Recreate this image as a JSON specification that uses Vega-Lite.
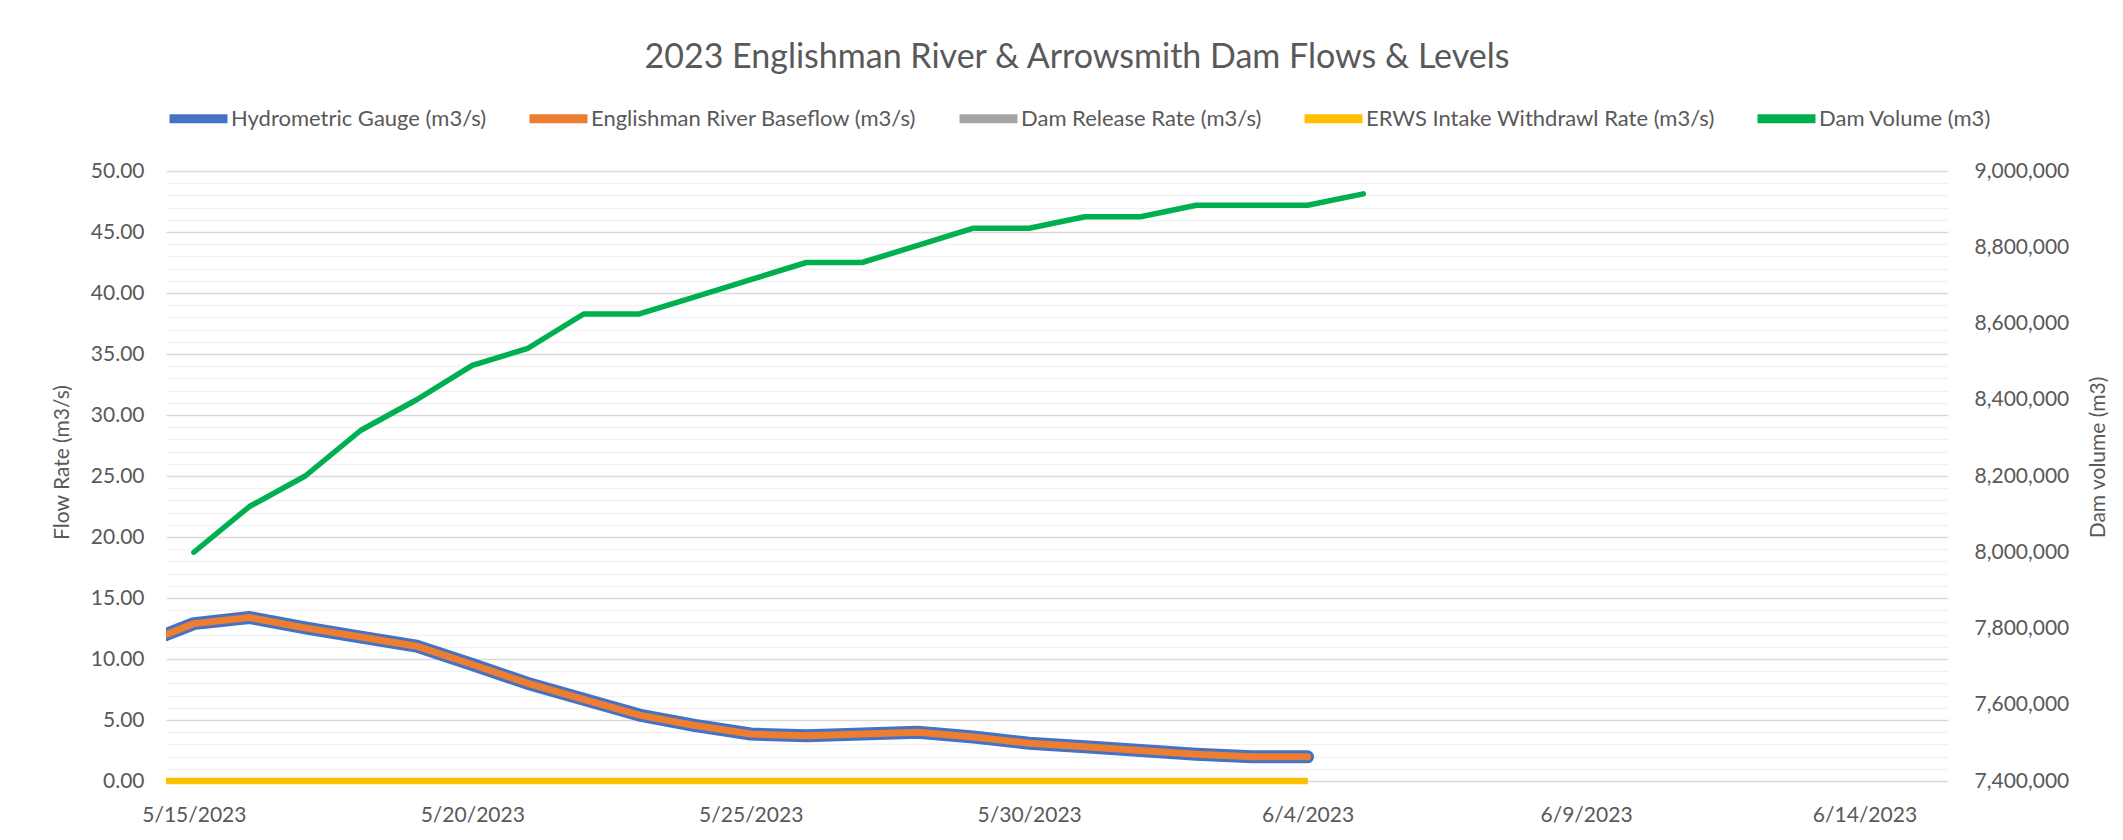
{
  "$schema": "https://vega.github.io/schema/vega-lite/v6.json",
  "width": 1782,
  "height": 610,
  "autosize": {"type": "none"},
  "padding": {"left": 166, "top": 171, "right": 175, "bottom": 59},
  "background": "white",
  "config": {
    "view": {"stroke": null},
    "font": "Lato",
    "axis": {"labelFont": "Lato", "titleFont": "Lato", "labelColor": "#595959", "titleColor": "#595959", "titleFontWeight": "normal"}
  },
  "title": {
    "text": "2023 Englishman River & Arrowsmith Dam Flows & Levels",
    "font": "Lato",
    "fontSize": 34,
    "fontWeight": "normal",
    "color": "#595959",
    "anchor": "middle",
    "offset": 10,
    "dx": 20
  },
  "data": {
    "values": [
      {"date": "2023-05-14", "series": "Hydrometric Gauge (m3/s)", "value": 11.1},
      {"date": "2023-05-15", "series": "Hydrometric Gauge (m3/s)", "value": 12.9},
      {"date": "2023-05-16", "series": "Hydrometric Gauge (m3/s)", "value": 13.4},
      {"date": "2023-05-17", "series": "Hydrometric Gauge (m3/s)", "value": 12.55},
      {"date": "2023-05-18", "series": "Hydrometric Gauge (m3/s)", "value": 11.8},
      {"date": "2023-05-19", "series": "Hydrometric Gauge (m3/s)", "value": 11.05},
      {"date": "2023-05-20", "series": "Hydrometric Gauge (m3/s)", "value": 9.55},
      {"date": "2023-05-21", "series": "Hydrometric Gauge (m3/s)", "value": 8.0},
      {"date": "2023-05-22", "series": "Hydrometric Gauge (m3/s)", "value": 6.7},
      {"date": "2023-05-23", "series": "Hydrometric Gauge (m3/s)", "value": 5.4},
      {"date": "2023-05-24", "series": "Hydrometric Gauge (m3/s)", "value": 4.55},
      {"date": "2023-05-25", "series": "Hydrometric Gauge (m3/s)", "value": 3.85},
      {"date": "2023-05-26", "series": "Hydrometric Gauge (m3/s)", "value": 3.7},
      {"date": "2023-05-27", "series": "Hydrometric Gauge (m3/s)", "value": 3.85},
      {"date": "2023-05-28", "series": "Hydrometric Gauge (m3/s)", "value": 4.0},
      {"date": "2023-05-29", "series": "Hydrometric Gauge (m3/s)", "value": 3.6},
      {"date": "2023-05-30", "series": "Hydrometric Gauge (m3/s)", "value": 3.1},
      {"date": "2023-05-31", "series": "Hydrometric Gauge (m3/s)", "value": 2.8},
      {"date": "2023-06-01", "series": "Hydrometric Gauge (m3/s)", "value": 2.5},
      {"date": "2023-06-02", "series": "Hydrometric Gauge (m3/s)", "value": 2.2},
      {"date": "2023-06-03", "series": "Hydrometric Gauge (m3/s)", "value": 1.98},
      {"date": "2023-06-04", "series": "Hydrometric Gauge (m3/s)", "value": 1.98},

      {"date": "2023-05-14", "series": "Englishman River Baseflow (m3/s)", "value": 11.1},
      {"date": "2023-05-15", "series": "Englishman River Baseflow (m3/s)", "value": 12.9},
      {"date": "2023-05-16", "series": "Englishman River Baseflow (m3/s)", "value": 13.4},
      {"date": "2023-05-17", "series": "Englishman River Baseflow (m3/s)", "value": 12.55},
      {"date": "2023-05-18", "series": "Englishman River Baseflow (m3/s)", "value": 11.8},
      {"date": "2023-05-19", "series": "Englishman River Baseflow (m3/s)", "value": 11.05},
      {"date": "2023-05-20", "series": "Englishman River Baseflow (m3/s)", "value": 9.55},
      {"date": "2023-05-21", "series": "Englishman River Baseflow (m3/s)", "value": 8.0},
      {"date": "2023-05-22", "series": "Englishman River Baseflow (m3/s)", "value": 6.7},
      {"date": "2023-05-23", "series": "Englishman River Baseflow (m3/s)", "value": 5.4},
      {"date": "2023-05-24", "series": "Englishman River Baseflow (m3/s)", "value": 4.55},
      {"date": "2023-05-25", "series": "Englishman River Baseflow (m3/s)", "value": 3.85},
      {"date": "2023-05-26", "series": "Englishman River Baseflow (m3/s)", "value": 3.7},
      {"date": "2023-05-27", "series": "Englishman River Baseflow (m3/s)", "value": 3.85},
      {"date": "2023-05-28", "series": "Englishman River Baseflow (m3/s)", "value": 4.0},
      {"date": "2023-05-29", "series": "Englishman River Baseflow (m3/s)", "value": 3.6},
      {"date": "2023-05-30", "series": "Englishman River Baseflow (m3/s)", "value": 3.1},
      {"date": "2023-05-31", "series": "Englishman River Baseflow (m3/s)", "value": 2.8},
      {"date": "2023-06-01", "series": "Englishman River Baseflow (m3/s)", "value": 2.5},
      {"date": "2023-06-02", "series": "Englishman River Baseflow (m3/s)", "value": 2.2},
      {"date": "2023-06-03", "series": "Englishman River Baseflow (m3/s)", "value": 1.98},
      {"date": "2023-06-04", "series": "Englishman River Baseflow (m3/s)", "value": 1.98},

      {"date": "2023-05-14T12:00:00Z", "series": "Dam Release Rate (m3/s)", "value": 0},
      {"date": "2023-05-15", "series": "Dam Release Rate (m3/s)", "value": 0},
      {"date": "2023-05-16", "series": "Dam Release Rate (m3/s)", "value": 0},
      {"date": "2023-05-17", "series": "Dam Release Rate (m3/s)", "value": 0},
      {"date": "2023-05-18", "series": "Dam Release Rate (m3/s)", "value": 0},
      {"date": "2023-05-19", "series": "Dam Release Rate (m3/s)", "value": 0},
      {"date": "2023-05-20", "series": "Dam Release Rate (m3/s)", "value": 0},
      {"date": "2023-05-21", "series": "Dam Release Rate (m3/s)", "value": 0},
      {"date": "2023-05-22", "series": "Dam Release Rate (m3/s)", "value": 0},
      {"date": "2023-05-23", "series": "Dam Release Rate (m3/s)", "value": 0},
      {"date": "2023-05-24", "series": "Dam Release Rate (m3/s)", "value": 0},
      {"date": "2023-05-25", "series": "Dam Release Rate (m3/s)", "value": 0},
      {"date": "2023-05-26", "series": "Dam Release Rate (m3/s)", "value": 0},
      {"date": "2023-05-27", "series": "Dam Release Rate (m3/s)", "value": 0},
      {"date": "2023-05-28", "series": "Dam Release Rate (m3/s)", "value": 0},
      {"date": "2023-05-29", "series": "Dam Release Rate (m3/s)", "value": 0},
      {"date": "2023-05-30", "series": "Dam Release Rate (m3/s)", "value": 0},
      {"date": "2023-05-31", "series": "Dam Release Rate (m3/s)", "value": 0},
      {"date": "2023-06-01", "series": "Dam Release Rate (m3/s)", "value": 0},
      {"date": "2023-06-02", "series": "Dam Release Rate (m3/s)", "value": 0},
      {"date": "2023-06-03", "series": "Dam Release Rate (m3/s)", "value": 0},
      {"date": "2023-06-04", "series": "Dam Release Rate (m3/s)", "value": 0},

      {"date": "2023-05-14T12:00:00Z", "series": "ERWS Intake Withdrawl Rate (m3/s)", "value": 0},
      {"date": "2023-05-15", "series": "ERWS Intake Withdrawl Rate (m3/s)", "value": 0},
      {"date": "2023-05-16", "series": "ERWS Intake Withdrawl Rate (m3/s)", "value": 0},
      {"date": "2023-05-17", "series": "ERWS Intake Withdrawl Rate (m3/s)", "value": 0},
      {"date": "2023-05-18", "series": "ERWS Intake Withdrawl Rate (m3/s)", "value": 0},
      {"date": "2023-05-19", "series": "ERWS Intake Withdrawl Rate (m3/s)", "value": 0},
      {"date": "2023-05-20", "series": "ERWS Intake Withdrawl Rate (m3/s)", "value": 0},
      {"date": "2023-05-21", "series": "ERWS Intake Withdrawl Rate (m3/s)", "value": 0},
      {"date": "2023-05-22", "series": "ERWS Intake Withdrawl Rate (m3/s)", "value": 0},
      {"date": "2023-05-23", "series": "ERWS Intake Withdrawl Rate (m3/s)", "value": 0},
      {"date": "2023-05-24", "series": "ERWS Intake Withdrawl Rate (m3/s)", "value": 0},
      {"date": "2023-05-25", "series": "ERWS Intake Withdrawl Rate (m3/s)", "value": 0},
      {"date": "2023-05-26", "series": "ERWS Intake Withdrawl Rate (m3/s)", "value": 0},
      {"date": "2023-05-27", "series": "ERWS Intake Withdrawl Rate (m3/s)", "value": 0},
      {"date": "2023-05-28", "series": "ERWS Intake Withdrawl Rate (m3/s)", "value": 0},
      {"date": "2023-05-29", "series": "ERWS Intake Withdrawl Rate (m3/s)", "value": 0},
      {"date": "2023-05-30", "series": "ERWS Intake Withdrawl Rate (m3/s)", "value": 0},
      {"date": "2023-05-31", "series": "ERWS Intake Withdrawl Rate (m3/s)", "value": 0},
      {"date": "2023-06-01", "series": "ERWS Intake Withdrawl Rate (m3/s)", "value": 0},
      {"date": "2023-06-02", "series": "ERWS Intake Withdrawl Rate (m3/s)", "value": 0},
      {"date": "2023-06-03", "series": "ERWS Intake Withdrawl Rate (m3/s)", "value": 0},
      {"date": "2023-06-04", "series": "ERWS Intake Withdrawl Rate (m3/s)", "value": 0},

      {"date": "2023-05-15", "series": "Dam Volume (m3)", "value": 8000000},
      {"date": "2023-05-16", "series": "Dam Volume (m3)", "value": 8120000},
      {"date": "2023-05-17", "series": "Dam Volume (m3)", "value": 8200000},
      {"date": "2023-05-18", "series": "Dam Volume (m3)", "value": 8320000},
      {"date": "2023-05-19", "series": "Dam Volume (m3)", "value": 8400000},
      {"date": "2023-05-20", "series": "Dam Volume (m3)", "value": 8490000},
      {"date": "2023-05-21", "series": "Dam Volume (m3)", "value": 8535000},
      {"date": "2023-05-22", "series": "Dam Volume (m3)", "value": 8625000},
      {"date": "2023-05-23", "series": "Dam Volume (m3)", "value": 8625000},
      {"date": "2023-05-24", "series": "Dam Volume (m3)", "value": 8670000},
      {"date": "2023-05-25", "series": "Dam Volume (m3)", "value": 8715000},
      {"date": "2023-05-26", "series": "Dam Volume (m3)", "value": 8760000},
      {"date": "2023-05-27", "series": "Dam Volume (m3)", "value": 8760000},
      {"date": "2023-05-28", "series": "Dam Volume (m3)", "value": 8805000},
      {"date": "2023-05-29", "series": "Dam Volume (m3)", "value": 8850000},
      {"date": "2023-05-30", "series": "Dam Volume (m3)", "value": 8850000},
      {"date": "2023-05-31", "series": "Dam Volume (m3)", "value": 8880000},
      {"date": "2023-06-01", "series": "Dam Volume (m3)", "value": 8880000},
      {"date": "2023-06-02", "series": "Dam Volume (m3)", "value": 8910000},
      {"date": "2023-06-03", "series": "Dam Volume (m3)", "value": 8910000},
      {"date": "2023-06-04", "series": "Dam Volume (m3)", "value": 8910000},
      {"date": "2023-06-05", "series": "Dam Volume (m3)", "value": 8940000}
    ]
  },
  "encoding": {
    "x": {
      "field": "date",
      "type": "temporal",
      "scale": {
        "type": "utc",
        "domain": [
          {"year": 2023, "month": 5, "date": 14, "hours": 12, "utc": true},
          {"year": 2023, "month": 6, "date": 15, "hours": 12, "utc": true}
        ]
      },
      "axis": {
        "title": null,
        "values": [
          {"year": 2023, "month": 5, "date": 15, "utc": true},
          {"year": 2023, "month": 5, "date": 20, "utc": true},
          {"year": 2023, "month": 5, "date": 25, "utc": true},
          {"year": 2023, "month": 5, "date": 30, "utc": true},
          {"year": 2023, "month": 6, "date": 4, "utc": true},
          {"year": 2023, "month": 6, "date": 9, "utc": true},
          {"year": 2023, "month": 6, "date": 14, "utc": true}
        ],
        "labelExpr": "utcFormat(datum.value, '%-m/%-d/%Y')",
        "labelFontSize": 21,
        "ticks": false,
        "domain": false,
        "grid": false,
        "labelPadding": 23,
        "labelOverlap": false
      }
    },
    "color": {
      "field": "series",
      "type": "nominal",
      "scale": {
        "domain": ["Hydrometric Gauge (m3/s)", "Englishman River Baseflow (m3/s)", "Dam Release Rate (m3/s)", "ERWS Intake Withdrawl Rate (m3/s)", "Dam Volume (m3)"],
        "range": ["#4472C4", "#ED7D31", "#A5A5A5", "#FFC000", "#00B050"]
      },
      "legend": {
        "orient": "none",
        "legendX": -1,
        "legendY": -86,
        "direction": "horizontal",
        "columns": 5,
        "title": null,
        "symbolType": "stroke",
        "symbolSize": 3364,
        "symbolStrokeWidth": 9,
        "labelFontSize": 22,
        "labelFont": "Lato",
        "labelColor": "#595959",
        "columnPadding": 24,
        "labelOffset": -1,
        "labelLimit": 0
      }
    }
  },
  "layer": [
    {
      "encoding": {
        "y": {
          "field": "value",
          "type": "quantitative",
          "scale": {"domain": [0, 50], "nice": false, "zero": false},
          "axis": {
            "orient": "left",
            "title": "Flow Rate (m3/s)",
            "titleFontSize": 21,
            "titleX": -104,
            "titleY": 291,
            "titleBaseline": "middle",
            "titleAlign": "center",
            "titleAngle": 270,
            "values": [0,1,2,3,4,5,6,7,8,9,10,11,12,13,14,15,16,17,18,19,20,21,22,23,24,25,26,27,28,29,30,31,32,33,34,35,36,37,38,39,40,41,42,43,44,45,46,47,48,49,50],
            "labelExpr": "datum.value % 5 === 0 ? format(datum.value, '.2f') : ''",
            "labelFontSize": 21,
            "labelOverlap": false,
            "labelBound": false,
            "labelPadding": 22,
            "ticks": false,
            "domain": false,
            "grid": true,
            "gridWidth": 1.5,
            "gridColor": {"condition": {"test": "datum.value % 5 === 0", "value": "#D9D9D9"}, "value": "#F2F2F2"}
          }
        }
      },
      "layer": [
        {
          "transform": [{"filter": {"field": "series", "equal": "Hydrometric Gauge (m3/s)"}}],
          "mark": {"type": "line", "strokeWidth": 13, "strokeJoin": "round", "strokeCap": "round", "clip": true}
        },
        {
          "transform": [{"filter": {"field": "series", "equal": "Englishman River Baseflow (m3/s)"}}],
          "mark": {"type": "line", "strokeWidth": 7, "strokeJoin": "round", "strokeCap": "round", "clip": true}
        },
        {
          "transform": [{"filter": {"field": "series", "equal": "Dam Release Rate (m3/s)"}}],
          "mark": {"type": "line", "strokeWidth": 5, "strokeJoin": "round", "strokeCap": "butt", "clip": false}
        },
        {
          "transform": [{"filter": {"field": "series", "equal": "ERWS Intake Withdrawl Rate (m3/s)"}}],
          "mark": {"type": "line", "strokeWidth": 6.5, "strokeJoin": "round", "strokeCap": "butt", "clip": false}
        }
      ]
    },
    {
      "transform": [{"filter": {"field": "series", "equal": "Dam Volume (m3)"}}],
      "mark": {"type": "line", "strokeWidth": 5.5, "strokeJoin": "round", "strokeCap": "round", "clip": true},
      "encoding": {
        "y": {
          "field": "value",
          "type": "quantitative",
          "scale": {"domain": [7400000, 9000000], "nice": false, "zero": false},
          "axis": {
            "orient": "right",
            "title": "Dam volume (m3)",
            "titleFontSize": 21,
            "titleX": 150,
            "titleY": 286,
            "titleBaseline": "middle",
            "titleAlign": "center",
            "titleAngle": 270,
            "values": [7400000, 7600000, 7800000, 8000000, 8200000, 8400000, 8600000, 8800000, 9000000],
            "labelExpr": "format(datum.value, ',')",
            "labelFontSize": 21,
            "labelOverlap": false,
            "labelBound": false,
            "labelPadding": 26,
            "ticks": false,
            "domain": false,
            "grid": false
          }
        }
      }
    }
  ],
  "resolve": {"scale": {"y": "independent"}}
}
